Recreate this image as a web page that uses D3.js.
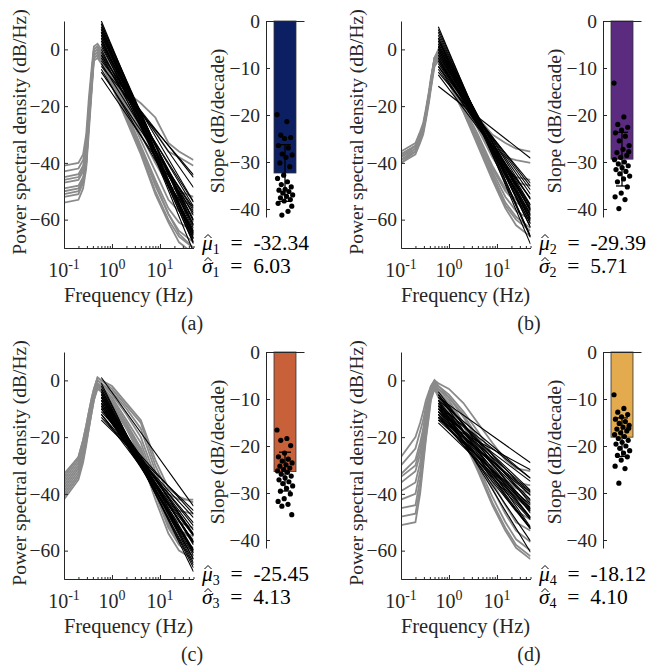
<!DOCTYPE html>
<html>
<head>
<meta charset="utf-8">
<script src="https://cdn.jsdelivr.net/npm/d3@7"></script>
<style>
  body { margin: 0; background: #fff; }
</style>
</head>
<body>
<svg id="chart" width="651" height="667" font-family="'Liberation Serif'"></svg>
<script>
'use strict'

const freqs = [0.1, 0.2, 0.25, 0.29, 0.33, 0.38, 0.42, 0.5, 0.6, 1, 2, 4, 8, 15, 25, 50]

const psdA = [
  [-41, -40, -37, -30, -17, -6, 1, 2, 0, -7, -15, -19, -24, -33, -36, -39],
  [-43, -42, -39, -33, -20, -8, 0, 1, -1, -8, -17, -22, -29, -36, -38, -41],
  [-45, -44, -41, -35, -22, -9, -1, 0, -2, -9, -19, -28, -38, -48, -53, -55],
  [-47, -46, -43, -37, -23, -10, -1, 0, -2, -10, -21, -32, -43, -53, -57, -58],
  [-49, -48, -45, -39, -25, -11, -2, -1, -3, -11, -22, -34, -46, -56, -61, -64],
  [-50, -49, -46, -40, -26, -12, -2, -1, -3, -11, -23, -35, -48, -58, -64, -68],
  [-52, -51, -47, -41, -27, -13, -3, -2, -4, -12, -24, -36, -50, -60, -66, -70],
  [-54, -53, -49, -42, -29, -14, -4, -3, -5, -13, -25, -37, -51, -61, -68, -72],
  [-46, -45, -42, -36, -21, -8, 0, 1, -1, -9, -20, -30, -40, -48, -50, -52],
  [-51, -50, -46, -40, -26, -12, -3, -2, -4, -12, -23, -35, -47, -58, -65, -70]
]
const psdB = [
  [-36, -33, -29, -26, -21, -15, -10, -3, 0, -8, -17, -24, -30, -33, -35, -36],
  [-37, -34, -30, -27, -22, -16, -11, -3, -1, -9, -18, -26, -34, -38, -39, -40],
  [-38, -34, -30, -27, -22, -16, -11, -3, -1, -10, -19, -28, -38, -45, -47, -48],
  [-38, -35, -31, -28, -23, -17, -12, -4, -2, -11, -20, -30, -41, -49, -53, -56],
  [-39, -35, -31, -28, -23, -17, -12, -4, -2, -11, -21, -32, -43, -52, -57, -60],
  [-39, -36, -32, -29, -24, -18, -13, -5, -3, -12, -22, -33, -45, -55, -60, -64],
  [-40, -36, -32, -29, -24, -18, -13, -5, -3, -12, -22, -34, -46, -56, -62, -66],
  [-40, -37, -33, -30, -25, -19, -14, -6, -4, -12, -21, -31, -42, -50, -54, -57],
  [-37, -34, -30, -27, -22, -16, -11, -3, -1, -9, -18, -27, -37, -43, -45, -46],
  [-39, -36, -32, -28, -23, -17, -12, -4, -2, -11, -21, -33, -44, -54, -59, -63]
]
const psdC = [
  [-33, -27, -21, -16, -11, -6, -3, 1, 0, -3, -9, -15, -30, -40, -42, -42],
  [-35, -28, -22, -17, -12, -7, -4, 0, -1, -4, -10, -17, -32, -43, -46, -47],
  [-36, -29, -23, -18, -13, -8, -4, 0, -1, -5, -12, -20, -34, -46, -50, -52],
  [-37, -30, -24, -19, -14, -8, -5, -1, -2, -6, -14, -22, -36, -48, -53, -56],
  [-38, -31, -25, -20, -15, -9, -5, -1, -2, -7, -15, -24, -38, -50, -56, -59],
  [-39, -32, -26, -21, -15, -10, -6, -1, -3, -8, -16, -25, -40, -52, -58, -62],
  [-40, -33, -27, -21, -16, -10, -6, -2, -3, -8, -17, -27, -42, -54, -60, -63],
  [-41, -34, -28, -22, -17, -11, -7, -2, -4, -9, -17, -26, -39, -51, -57, -60],
  [-42, -35, -29, -23, -17, -11, -7, -3, -4, -9, -16, -24, -37, -47, -53, -55],
  [-34, -27, -21, -16, -11, -6, -3, 1, 0, -2, -8, -14, -28, -38, -41, -43]
]
const psdD = [
  [-27, -20, -15, -11, -7, -4, -2, 0, -1, -3, -8, -15, -22, -28, -31, -32],
  [-30, -24, -18, -14, -9, -5, -2, 0, -2, -5, -11, -18, -26, -33, -36, -37],
  [-33, -28, -22, -17, -11, -6, -3, -1, -3, -6, -13, -21, -30, -37, -41, -43],
  [-36, -32, -26, -20, -13, -7, -4, -1, -3, -7, -15, -24, -33, -41, -46, -49],
  [-39, -36, -29, -22, -15, -9, -5, -2, -4, -8, -16, -26, -36, -44, -50, -53],
  [-42, -40, -32, -24, -17, -10, -5, -2, -4, -9, -18, -28, -38, -47, -53, -57],
  [-45, -44, -35, -26, -18, -11, -6, -3, -5, -10, -19, -30, -41, -50, -56, -60],
  [-48, -47, -38, -28, -20, -12, -6, -3, -5, -11, -20, -31, -43, -52, -58, -62],
  [-51, -50, -40, -30, -21, -13, -7, -3, -6, -12, -21, -32, -44, -53, -59, -63],
  [-34, -30, -24, -18, -12, -6, -3, 0, -2, -6, -12, -20, -28, -35, -38, -40]
]

// fitted slopes per subject (dB/decade), also the dots of the bar plots
const slopesA = [-19.9, -21.4, -24.3, -24.8, -25.0, -26.5, -27.0, -28.3, -28.5, -29.0, -30.2, -31.0, -32.8, -33.5, -34.2, -34.8, -35.3, -35.8, -36.0, -36.3, -36.6, -37.0, -37.3, -37.6, -38.0, -38.3, -38.8, -40.5, -41.3, -39.4]
const slopesB = [-13.2, -20.4, -22.0, -22.6, -23.2, -23.8, -24.5, -25.5, -26.5, -27.3, -28.0, -28.6, -29.0, -29.5, -30.0, -30.4, -30.8, -31.2, -31.6, -32.0, -32.5, -33.0, -33.6, -34.2, -35.3, -36.6, -37.4, -38.0, -39.9, -27.8]
const slopesC = [-16.6, -18.4, -18.8, -19.9, -21.5, -22.3, -22.8, -23.2, -23.6, -24.0, -24.3, -24.7, -25.0, -25.3, -25.6, -26.0, -26.4, -26.8, -27.2, -27.6, -28.0, -28.5, -29.0, -29.6, -30.2, -31.2, -31.8, -32.4, -32.8, -34.6]
const slopesD = [-9.1, -12.0, -12.8, -13.3, -13.8, -14.3, -14.8, -15.2, -15.6, -16.0, -16.4, -16.8, -17.2, -17.6, -18.0, -18.4, -18.8, -19.2, -19.6, -20.0, -20.5, -21.0, -21.5, -22.0, -22.3, -23.0, -24.3, -24.8, -27.9, -16.2]

// level of each fitted line at its first frequency (dB/Hz)
const fitStartA = [-6, -4, -2, -10, -8, -3, -5, -1, -7, 2, -2, 1, 3, 0, 5, 2, 6, 4, 7, 3, 5, 8, 6, 4, 9, 7, 6, 10, 8, 9]
const fitStartB = [-13, -8, -6, -9, -5, -7, -4, -6, -2, -4, -1, -3, 0, -2, 1, -1, 2, 0, 1, 3, 1, 2, 4, 3, 5, 4, 6, 7, 8, -3]
const fitStartC = [-14, -13, -11, -12, -10, -12, -9, -10, 1, -8, -10, -7, -9, -6, -8, -7, -9, -6, -8, -5, -7, -5, -6, -4, -5, -3, -4, -2, -3, -1]
const fitStartD = [-14, -6, -11, -9, -13, -7, -12, -10, -14, -8, -11, -13, -9, -12, -6, -10, -13, -8, -11, -5, -9, -12, -7, -10, -4, -8, -5, -9, -7, -15]
const fitRange = [0.6, 50]

const means = [-32.34, -29.39, -25.45, -18.12]
const stds = [6.03, 5.71, 4.13, 4.10]
const letters = ['a', 'b', 'c', 'd']
const subs = ['1', '2', '3', '4']
const barColors = ['#0c1f63', '#5b2b80', '#c8603a', '#e3aa4e']

const psdTicks = [-60, -40, -20, 0]
const slopeTicks = [0, -10, -20, -30, -40]
const freqTicks = [0.1, 1, 10]
const freqMinor = [0.2, 0.3, 0.4, 0.5, 0.6, 0.7, 0.8, 0.9, 2, 3, 4, 5, 6, 7, 8, 9, 20, 30, 40, 50]

const panels = [
  { psd: psdA, slopes: slopesA, starts: fitStartA, ox: 0, oy: 0 },
  { psd: psdB, slopes: slopesB, starts: fitStartB, ox: 337, oy: 0 },
  { psd: psdC, slopes: slopesC, starts: fitStartC, ox: 0, oy: 331 },
  { psd: psdD, slopes: slopesD, starts: fitStartD, ox: 337, oy: 331 }
]

const svg = d3.select('#chart')
const ink = '#262626'
const serif = "'Liberation Serif'"
const fontSize = 19.5

function styleAxis (g) {
  g.attr('font-family', serif).attr('font-size', fontSize)
  g.select('.domain').attr('stroke', ink).attr('stroke-width', 1)
  g.selectAll('.tick line').attr('stroke', ink)
  g.selectAll('.tick text').attr('fill', ink)
}

function addText (g, str, size) {
  return g.append('text')
    .attr('fill', ink)
    .attr('font-family', serif)
    .attr('font-size', size || fontSize)
    .text(str)
}

function drawPsd (g, p, i) {
  const x = d3.scaleLog().domain([0.1, 50]).range([64, 193.5])
  const y = d3.scaleLinear().domain([-70, 10]).range([248, 21])

  g.append('clipPath')
    .attr('id', `clip-${i}`)
    .append('rect')
    .attr('x', 64).attr('y', 21)
    .attr('width', 129.5).attr('height', 227)

  const plot = g.append('g').attr('clip-path', `url(#clip-${i})`)
  const line = d3.line()
    .x(d => x(d[0]))
    .y(d => y(d[1]))

  plot.selectAll('.psd')
    .data(p.psd)
    .enter().append('path')
    .attr('class', 'psd')
    .attr('d', d => line(freqs.map((f, k) => [f, d[k]])))
    .attr('fill', 'none')
    .attr('stroke', '#8a8a8a')
    .attr('stroke-width', 1.8)

  const decades = Math.log10(fitRange[1] / fitRange[0])
  plot.selectAll('.fit')
    .data(p.slopes)
    .enter().append('path')
    .attr('class', 'fit')
    .attr('d', (s, k) => line([[fitRange[0], p.starts[k]], [fitRange[1], p.starts[k] + s * decades]]))
    .attr('fill', 'none')
    .attr('stroke', '#000')
    .attr('stroke-width', 1.1)

  g.append('g')
    .attr('transform', 'translate(64,0)')
    .call(d3.axisLeft(y).tickValues(psdTicks).tickSizeInner(-4).tickSizeOuter(0).tickPadding(4))
    .call(styleAxis)

  g.append('g')
    .attr('transform', 'translate(0,248)')
    .call(d3.axisBottom(x).tickValues(freqMinor).tickSizeInner(-2).tickSizeOuter(0).tickFormat(''))
    .call(styleAxis)

  g.append('g')
    .attr('transform', 'translate(0,248)')
    .call(d3.axisBottom(x).tickValues(freqTicks).tickSizeInner(-4).tickSizeOuter(0).tickFormat(''))
    .call(styleAxis)

  freqTicks.forEach(t => {
    const lab = addText(g, null, 20)
      .attr('x', x(t))
      .attr('y', 277)
      .attr('text-anchor', 'middle')
    lab.append('tspan').text('10')
    lab.append('tspan')
      .attr('dy', -8)
      .attr('font-size', 14)
      .text(Math.round(Math.log10(t)))
  })

  addText(g, 'Power spectral density (dB/Hz)')
    .attr('transform', 'translate(26,132) rotate(-90)')
    .attr('text-anchor', 'middle')

  addText(g, 'Frequency (Hz)', 20.5)
    .attr('x', 128.5)
    .attr('y', 302)
    .attr('text-anchor', 'middle')

  addText(g, `(${letters[i]})`, 20)
    .attr('x', 192)
    .attr('y', 330)
    .attr('text-anchor', 'middle')
}

function drawSlopes (g, p, i) {
  const x = d3.scaleBand().domain([letters[i]]).range([266, 304]).padding(0.267)
  const y = d3.scaleLinear().domain([-41.7, 0]).range([217, 21])
  const cx = x(letters[i]) + x.bandwidth() / 2

  g.append('rect')
    .attr('x', x(letters[i]))
    .attr('y', y(0))
    .attr('width', x.bandwidth())
    .attr('height', y(means[i]) - y(0))
    .attr('fill', barColors[i])
    .attr('stroke', '#333')
    .attr('stroke-width', 0.8)

  // deterministic spread of the points around the bar centre
  g.selectAll('.dot')
    .data(p.slopes)
    .enter().append('circle')
    .attr('class', 'dot')
    .attr('cx', (d, k) => cx + ((k * 0.618034) % 1 - 0.5) * 16)
    .attr('cy', d => y(d))
    .attr('r', 2.6)
    .attr('fill', '#000')

  const hi = y(means[i] + stds[i])
  const lo = y(means[i] - stds[i])
  const err = g.append('g').attr('stroke', '#000').attr('stroke-width', 1.3)
  err.append('line').attr('x1', cx).attr('x2', cx).attr('y1', hi).attr('y2', lo)
  err.append('line').attr('x1', cx - 6).attr('x2', cx + 6).attr('y1', hi).attr('y2', hi)
  err.append('line').attr('x1', cx - 6).attr('x2', cx + 6).attr('y1', lo).attr('y2', lo)

  g.append('g')
    .attr('transform', 'translate(266,0)')
    .call(d3.axisLeft(y).tickValues(slopeTicks).tickSizeInner(-4).tickSizeOuter(0).tickPadding(6))
    .call(styleAxis)

  g.append('g')
    .attr('transform', `translate(0,${y(0)})`)
    .call(d3.axisTop(x).tickSize(0).tickFormat(''))
    .call(styleAxis)

  addText(g, 'Slope (dB/decade)')
    .attr('transform', 'translate(224,121) rotate(-90)')
    .attr('text-anchor', 'middle')

  const stats = [['\u03bc', means[i].toFixed(2)], ['\u03c3', stds[i].toFixed(2)]]
  stats.forEach(([sym, val], k) => {
    const base = 250 + k * 23
    const t = addText(g, null, 21.5)
      .attr('x', 202)
      .attr('y', base)
      .attr('fill', '#000')
    t.append('tspan').attr('font-style', 'italic').text(sym)
    t.append('tspan').attr('dy', 4).attr('font-size', 14).text(subs[i])
    t.append('tspan').attr('dy', -4).text(`\u2002=\u2002${val}`)
    // estimator hat over the symbol
    g.append('path')
      .attr('d', `M${204.5},${base - 12} L${208},${base - 15.5} L${211.5},${base - 12}`)
      .attr('fill', 'none')
      .attr('stroke', '#000')
      .attr('stroke-width', 1)
  })
}

panels.forEach((p, i) => {
  const g = svg.append('g').attr('transform', `translate(${p.ox},${p.oy})`)
  drawPsd(g, p, i)
  drawSlopes(g, p, i)
})
</script>
</body>
</html>
